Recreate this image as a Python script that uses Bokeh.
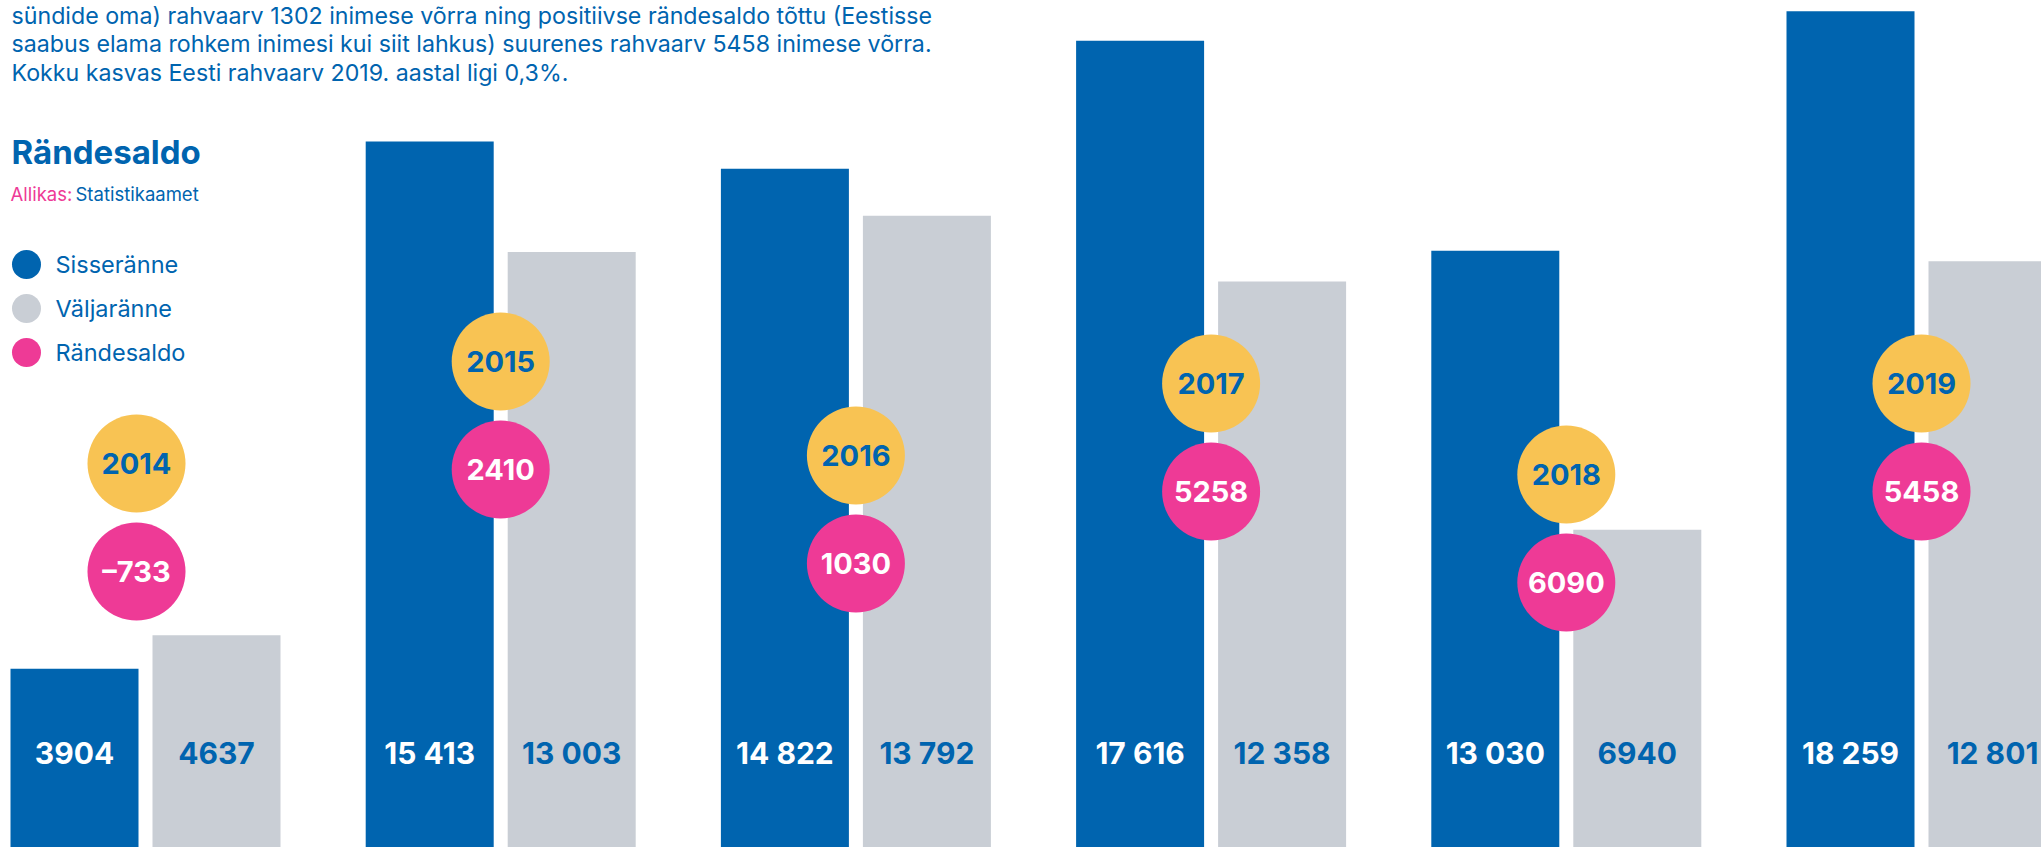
from bokeh.plotting import figure
from bokeh.models import Range1d, Label, ColumnDataSource
from bokeh.core.properties import value
from bokeh.embed import file_html
from bokeh.resources import INLINE

# ---------------- data ----------------
years = ["2014", "2015", "2016", "2017", "2018", "2019"]
immigration = [3904, 15413, 14822, 17616, 13030, 18259]      # Sisseränne
emigration = [4637, 13003, 13792, 12358, 6940, 12801]         # Väljaränne
net_migration = [-733, 2410, 1030, 5258, 6090, 5458]          # Rändesaldo
immigration_labels = ["3904", "15 413", "14 822", "17 616", "13 030", "18 259"]
emigration_labels = ["4637", "13 003", "13 792", "12 358", "6940", "12 801"]
net_labels = ["–733", "2410", "1030", "5258", "6090", "5458"]

body_lines = [
    "sündide oma) rahvaarv 1302 inimese võrra ning positiivse rändesaldo tõttu (Eestisse",
    "saabus elama rohkem inimesi kui siit lahkus) suurenes rahvaarv 5458 inimese võrra.",
    "Kokku kasvas Eesti rahvaarv 2019. aastal ligi 0,3%.",
]
title_text = "Rändesaldo"
source_prefix = "Allikas:"
source_text = "Statistikaamet"
legend_names = ["Sisseränne", "Väljaränne", "Rändesaldo"]

# ---------------- layout (pixels on the page) ----------------
BLUE = "#0064AF"
GRAY = "#C9CED5"
YELLOW = "#F8C353"
PINK = "#EE3A96"

W, H = 2041, 847
PAGE_OFF = 0
PX_PER_UNIT_Y = 0.0458          # pixels per person
BASE_PX = 847                   # page y of value 0
GROUP0_PX = 145.0               # page x of first group centre
PITCH_PX = 355.2                # page px between groups

def dx(px):      # page x -> data x
    return (px - GROUP0_PX) / PITCH_PX

def dy(py):      # page y -> data y
    return (BASE_PX - py) / PX_PER_UNIT_Y

x_start, x_end = dx(PAGE_OFF), dx(PAGE_OFF + W)
y_start, y_end = dy(PAGE_OFF + H), dy(PAGE_OFF)

p = figure(width=W, height=H, x_range=Range1d(x_start, x_end), y_range=Range1d(y_start, y_end),
           x_axis_type=None, y_axis_type=None, toolbar_location=None,
           output_backend="svg", min_border=0, outline_line_color=None,
           background_fill_color="white", border_fill_color="white")
p.grid.visible = False

idx = list(range(len(years)))
bar_off = 71 / PITCH_PX
bar_w = 128 / PITCH_PX

src = ColumnDataSource(dict(
    xb=[i - bar_off for i in idx], xg=[i + bar_off for i in idx],
    imm=immigration, emi=emigration,
    imm_lab=immigration_labels, emi_lab=emigration_labels,
    laby=[dy(752)] * len(idx),
))
p.vbar(x="xb", top="imm", bottom=0, width=bar_w, source=src, fill_color=BLUE, line_color=None)
p.vbar(x="xg", top="emi", bottom=0, width=bar_w, source=src, fill_color=GRAY, line_color=None)

FONT = "Inter"
num_font = value(FONT)
p.text(x="xb", y="laby", text="imm_lab", source=src, text_font=num_font, text_font_style="bold",
       text_font_size="30px", text_color="white", text_align="center", text_baseline="middle")
p.text(x="xg", y="laby", text="emi_lab", source=src, text_font=num_font, text_font_style="bold",
       text_font_size="30px", text_color=BLUE, text_align="center", text_baseline="middle")

# year / net-migration badges
year_circle_py = [463, 361, 455, 383, 474, 383]
circle_shift_px = [-9, 0, 0, 0, 0, 0]
pink_gap_px = 108
cx = [i + s / PITCH_PX for i, s in zip(idx, circle_shift_px)]
csrc = ColumnDataSource(dict(
    x=cx, yy=[dy(v) for v in year_circle_py], yp=[dy(v + pink_gap_px) for v in year_circle_py],
    year=years, net=net_labels, netv=net_migration,
))
p.scatter(x="x", y="yy", size=98, marker="circle", fill_color=YELLOW, line_color=None, source=csrc)
p.scatter(x="x", y="yp", size=98, marker="circle", fill_color=PINK, line_color=None, source=csrc)
p.text(x="x", y="yy", text="year", source=csrc, text_font=num_font, text_font_style="bold",
       text_font_size="29px", text_color=BLUE, text_align="center", text_baseline="middle")
p.text(x="x", y="yp", text="net", source=csrc, text_font=num_font, text_font_style="bold",
       text_font_size="29px", text_color="white", text_align="center", text_baseline="middle")

# body text (positions are cap centres on the page)
for line, mid in zip(body_lines, [15, 43.5, 72]):
    p.add_layout(Label(x=dx(11), y=dy(mid), text=line, text_font=FONT, text_font_size="23.2px",
                       text_color=BLUE, text_baseline="middle", text_align="left"))

p.add_layout(Label(x=dx(11), y=dy(151), text=title_text, text_font=FONT, text_font_size="33px",
                   text_font_style="bold", text_color=BLUE, text_baseline="middle"))
p.add_layout(Label(x=dx(10), y=dy(193), text=source_prefix, text_font=FONT, text_font_size="18.5px",
                   text_color=PINK, text_baseline="middle"))
p.add_layout(Label(x=dx(75), y=dy(193), text=source_text, text_font=FONT, text_font_size="18.5px",
                   text_color=BLUE, text_baseline="middle"))

# legend
leg_py = [264, 308, 352]
leg_colors = [BLUE, GRAY, PINK]
lsrc = ColumnDataSource(dict(x=[dx(26)] * 3, y=[dy(v) for v in leg_py], c=leg_colors,
                             ty=[dy(v) for v in leg_py], tx=[dx(55)] * 3, name=legend_names))
p.scatter(x="x", y="y", size=29, marker="circle", fill_color="c", line_color=None, source=lsrc)
p.text(x="tx", y="ty", text="name", source=lsrc, text_font=value(FONT), text_font_size="23.5px",
       text_color=BLUE, text_align="left", text_baseline="middle")

open("out.html", "w").write(file_html(p, INLINE))
